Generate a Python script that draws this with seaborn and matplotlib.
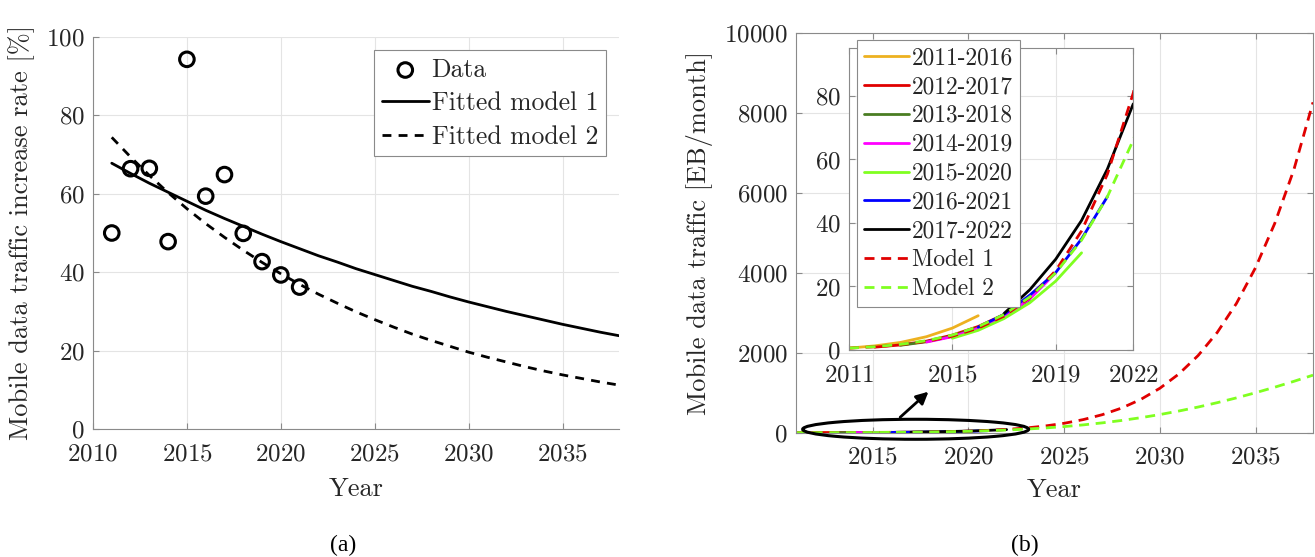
import matplotlib
matplotlib.use("Agg")
import matplotlib.pyplot as plt
import seaborn as sns
import pandas as pd
from matplotlib.patches import Ellipse

# ---------------- data: panel (a) ----------------
data_years = [2011, 2012, 2013, 2014, 2015, 2016, 2017, 2018, 2019, 2020, 2021]
data_rate = [50.0, 66.4, 66.5, 47.8, 94.3, 59.4, 64.9, 49.9, 42.7, 39.3, 36.2]

fit_years = list(range(2011, 2039))
fit_model1 = [67.8, 65.2, 62.7, 60.4, 58.1, 55.8, 53.7, 51.7, 49.7, 47.8,
              46.0, 44.2, 42.6, 40.9, 39.4, 37.9, 36.4, 35.1, 33.7, 32.4,
              31.2, 30.0, 28.9, 27.8, 26.7, 25.7, 24.7, 23.8]
fit_model2 = [74.4, 69.4, 64.7, 60.3, 56.2, 52.4, 48.9, 45.6, 42.5, 39.6,
              36.9, 34.4, 32.1, 29.9, 27.9, 26.0, 24.2, 22.6, 21.1, 19.6,
              18.3, 17.1, 15.9, 14.8, 13.8, 12.9, 12.0, 11.2]

# ---------------- data: panel (b) ----------------
f2011_2016 = [0.6, 1.3, 2.4, 4.2, 6.9, 10.8]
f2012_2017 = [0.9, 1.6, 2.8, 4.7, 7.4, 11.2]
f2013_2018 = [1.5, 2.6, 4.4, 7.0, 10.8, 15.9]
f2014_2019 = [2.5, 4.2, 6.8, 10.7, 16.1, 24.3]
f2015_2020 = [3.7, 6.2, 9.9, 14.9, 21.7, 30.6]
f2016_2021 = [7.2, 11.2, 17.3, 24.4, 35.0, 48.3]
f2017_2022 = [11.5, 19.0, 28.6, 40.8, 57.0, 77.5]
forecast_labels = ["2011-2016", "2012-2017", "2013-2018", "2014-2019",
                   "2015-2020", "2016-2021", "2017-2022"]
forecast_start = [2011, 2012, 2013, 2014, 2015, 2016, 2017]
forecast_series = [f2011_2016, f2012_2017, f2013_2018, f2014_2019,
                   f2015_2020, f2016_2021, f2017_2022]
forecast_colors = ["#EDB120", "#E00000", "#4A7D22", "#FF00FF",
                   "#80FF20", "#0000FF", "#000000"]

model_years = list(range(2011, 2039))
model1_traffic = [0.60, 1.01, 1.67, 2.72, 4.36, 6.89, 10.7, 16.5, 25.0, 37.5,
                  55.4, 80.9, 116.7, 166.3, 234.4, 326.7, 450.5, 614.7, 830,
                  1110, 1470, 1929, 2507, 3231, 4128, 5231, 6576, 8260]
model2_traffic = [0.60, 1.05, 1.78, 2.94, 4.71, 7.35, 11.2, 16.7, 24.3, 34.6,
                  48.3, 66.1, 88.8, 117.3, 152.4, 194.9, 245.6, 305.1, 374.1,
                  452.9, 541.9, 641.1, 750.5, 870, 999, 1137, 1284, 1438]
model_labels = ["Model 1", "Model 2"]
model_colors = ["#E00000", "#80FF20"]

# ---------------- style ----------------
sns.set_theme(style="white")
plt.rcParams["font.family"] = ["cmr10", "DejaVu Serif"]
plt.rcParams["mathtext.fontset"] = "cm"
plt.rcParams["axes.formatter.use_mathtext"] = True
plt.rcParams["axes.unicode_minus"] = False

SPINE = "#8a8a8a"
TXT = "#262626"
GRID = "#e4e4e4"
FS = 18

fig = plt.figure(figsize=(13.15, 5.57), dpi=100)
ax1 = fig.add_axes([0.0707, 0.2298, 0.400, 0.7038])
ax2 = fig.add_axes([0.6053, 0.2232, 0.3932, 0.7181])
axi = fig.add_axes([0.6456, 0.3716, 0.2162, 0.5417])


def style_axes(ax, box):
    for side, sp in ax.spines.items():
        sp.set_color(SPINE)
        sp.set_linewidth(0.8)
        if not box and side in ("top", "right"):
            sp.set_visible(False)
    ax.tick_params(direction="in", length=4, width=0.8, color=SPINE,
                   labelcolor=TXT, labelsize=FS, pad=6,
                   top=box, right=box, bottom=True, left=True)
    ax.tick_params(axis="x", pad=10)
    ax.grid(True, color=GRID, linewidth=0.8)
    ax.set_axisbelow(True)


# ---------------- panel (a) ----------------
dfa = pd.DataFrame({"year": fit_years, "m1": fit_model1, "m2": fit_model2})
sns.lineplot(data=dfa, x="year", y="m1", ax=ax1, color="black", linewidth=2.0,
             label="Fitted model 1")
sns.lineplot(data=dfa, x="year", y="m2", ax=ax1, color="black", linewidth=2.0,
             linestyle=(0, (3.2, 2.6)), label="Fitted model 2")
sns.scatterplot(x=data_years, y=data_rate, ax=ax1, marker="o", s=110,
                facecolors="none", edgecolors="black", linewidths=2.2,
                label="Data", zorder=5)
ax1.set_xlim(2010, 2038)
ax1.set_ylim(0, 100)
ax1.set_xticks([2010, 2015, 2020, 2025, 2030, 2035])
ax1.set_yticks([0, 20, 40, 60, 80, 100])
style_axes(ax1, box=False)
ax1.set_xlabel("Year", fontsize=19, color=TXT, labelpad=9)
ax1.set_ylabel("Mobile data traffic increase rate [%]", fontsize=19,
               color=TXT, labelpad=8)
h, l = ax1.get_legend_handles_labels()
order = [l.index("Data"), l.index("Fitted model 1"), l.index("Fitted model 2")]
leg1 = ax1.legend([h[i] for i in order], [l[i] for i in order],
                  loc="upper right", bbox_to_anchor=(0.975, 0.966),
                  borderaxespad=0, fontsize=18.5, handlelength=1.85,
                  handletextpad=0.1, labelspacing=0.38, borderpad=0.3,
                  fancybox=False, framealpha=1, edgecolor=SPINE)
leg1.get_frame().set_linewidth(0.8)
for t in leg1.get_texts():
    t.set_color(TXT)

# ---------------- panel (b) ----------------
for ax in (ax2, axi):
    for lab, start, vals, col in zip(forecast_labels, forecast_start,
                                     forecast_series, forecast_colors):
        yrs = list(range(start, start + len(vals)))
        sns.lineplot(x=yrs, y=vals, ax=ax, color=col, linewidth=2.0,
                     label=lab, legend=False)
    for lab, vals, col in zip(model_labels, [model1_traffic, model2_traffic],
                              model_colors):
        sns.lineplot(x=model_years, y=vals, ax=ax, color=col, linewidth=2.0,
                     linestyle=(0, (3.6, 2.4)), label=lab, legend=False)

ax2.set_xlim(2011, 2038)
ax2.set_ylim(0, 10000)
ax2.set_xticks([2015, 2020, 2025, 2030, 2035])
ax2.set_yticks([0, 2000, 4000, 6000, 8000, 10000])
style_axes(ax2, box=True)
ax2.set_xlabel("Year", fontsize=19, color=TXT, labelpad=7)
ax2.set_ylabel("Mobile data traffic [EB/month]", fontsize=19, color=TXT,
               labelpad=8)

# ellipse highlighting 2011-2022 region and arrow towards the inset
ell = Ellipse((2017.25, 85), width=11.8, height=500, fill=False,
              edgecolor="black", linewidth=2.2, zorder=6, clip_on=False)
ax2.add_patch(ell)
ax2.annotate("", xy=(2017.92, 1025), xytext=(2016.44, 385),
             arrowprops=dict(arrowstyle="-|>", color="black", lw=2.0,
                             mutation_scale=18, shrinkA=0, shrinkB=0),
             zorder=6)

axi.set_facecolor("white")
axi.set_xlim(2011, 2022)
axi.set_ylim(0, 95)
axi.set_xticks([2011, 2015, 2019, 2022])
axi.set_yticks([0, 20, 40, 60, 80])
style_axes(axi, box=True)
axi.set_xlabel("")
axi.set_ylabel("")
hi, li = axi.get_legend_handles_labels()
leg2 = axi.legend(hi, li, loc="upper left", bbox_to_anchor=(0.029, 1.0275),
                  borderaxespad=0, fontsize=16.8, handlelength=1.9,
                  handletextpad=0.15, labelspacing=0.29, borderpad=0.3,
                  fancybox=False, framealpha=1, edgecolor=SPINE)
leg2.get_frame().set_linewidth(0.8)
for t in leg2.get_texts():
    t.set_color(TXT)

# captions
fig.text(0.2608, 0.0215, "(a)", fontsize=17, family=["Liberation Serif"],
         ha="center", va="center", color="black")
fig.text(0.7795, 0.0215, "(b)", fontsize=17, family=["Liberation Serif"],
         ha="center", va="center", color="black")

fig.savefig("out.png", dpi=100)
